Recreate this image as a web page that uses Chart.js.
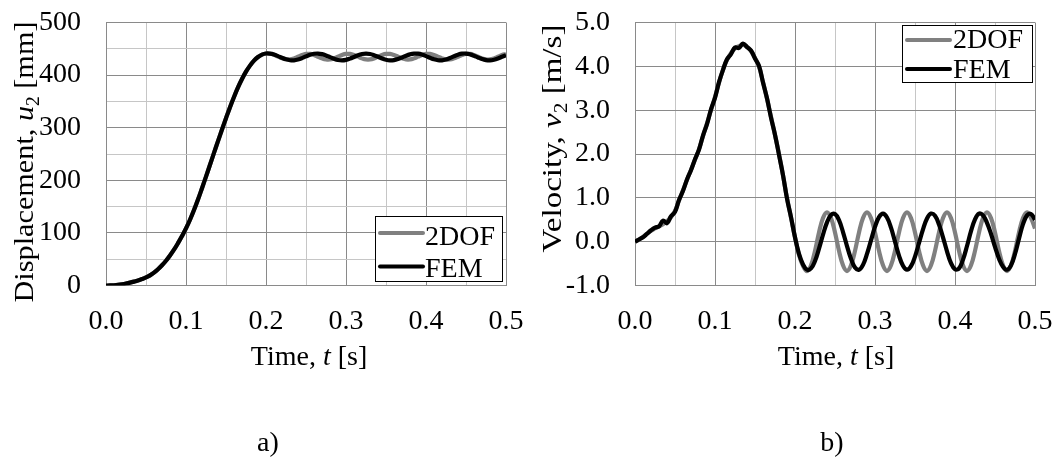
<!DOCTYPE html>
<html><head><meta charset="utf-8">
<script src="https://cdn.jsdelivr.net/npm/chart.js@4.4.1/dist/chart.umd.min.js"></script>
<style>
html,body{margin:0;padding:0;background:#fff;overflow:hidden;}
#wrap{position:relative;width:1055px;height:457px;background:#fff;}
canvas{position:absolute;top:0;}
</style></head><body>
<div id="wrap">
<canvas id="c1" width="528" height="457" style="left:0px"></canvas>
<canvas id="c2" width="527" height="457" style="left:528px"></canvas>
</div>
<script>
// ---- data (time in s) ----
const time = [
0,0.005,0.01,0.015,0.02,0.025,0.03,0.035,0.04,0.045,
0.05,0.055,0.06,0.065,0.07,0.075,0.08,0.085,0.09,0.095,
0.1,0.105,0.11,0.115,0.12,0.125,0.13,0.135,0.14,0.145,
0.15,0.155,0.16,0.165,0.17,0.175,0.18,0.185,0.19,0.195,
0.2,0.205,0.21,0.215,0.22,0.225,0.23,0.235,0.24,0.245,
0.25,0.255,0.26,0.265,0.27,0.275,0.28,0.285,0.29,0.295,
0.3,0.305,0.31,0.315,0.32,0.325,0.33,0.335,0.34,0.345,
0.35,0.355,0.36,0.365,0.37,0.375,0.38,0.385,0.39,0.395,
0.4,0.405,0.41,0.415,0.42,0.425,0.43,0.435,0.44,0.445,
0.45,0.455,0.46,0.465,0.47,0.475,0.48,0.485,0.49,0.495,
0.5];

// displacement u2 [mm]
const disp2DOF = [
0,0.1,0.5,1.2,2.3,3.7,5.4,7.4,9.6,12.2,
15.3,19.3,24.5,31,38.5,47,57,68,80.5,94,
108.5,125,143.5,163.5,185,207,229.5,252,274.5,296.5,
318,339,358.5,376.5,392.5,406.5,418,427.5,434.5,439,
441,440.6,438.5,435.2,432.0,430.1,429.9,431.8,435.0,438.2,
440.2,440.3,438.2,435.0,431.8,429.8,429.7,431.8,435.1,438.2,
440.2,440.2,438.3,435.0,431.8,429.8,429.8,431.7,435.0,438.2,
440.3,440.2,438.2,435.0,431.9,429.8,429.8,431.8,435.0,438.3,
440.2,440.2,438.2,434.9,431.8,429.8,429.8,431.8,435.0,438.2,
440.2,440.2,438.2,435.0,431.8,429.8,429.8,431.8,435.0,438.2,
440.2];
const dispFEM = [
0,0.1,0.5,1.2,2.3,3.7,5.4,7.4,9.6,12.2,
15.3,19.3,24.5,31,38.5,47,57,68,80.5,94,
108.5,125,143.5,163.5,185,207,229.5,252,274.5,296.5,
318,339,358.5,376.5,392.5,406.5,418,427.5,434.5,439,
441,440.7,439.0,436.1,432.9,430.0,428.3,428.1,429.6,432.2,
435.5,438.5,440.5,441.0,439.8,437.4,434.2,431.1,428.8,428.0,
428.9,431.3,434.5,437.8,440.1,441.0,440.2,437.9,434.8,431.6,
429.2,428.0,428.5,430.5,433.5,436.8,439.4,440.9,440.7,439.0,
436.1,432.9,430.0,428.3,428.1,429.7,432.5,435.9,438.8,440.7,
440.9,439.4,436.8,433.5,430.5,428.5,428.0,429.2,431.6,434.8,
437.9];

// velocity v2 [m/s]
const vel2DOF = [
0,0.05,0.11,0.18,0.25,0.30,0.35,0.40,0.47,0.56,
0.70,0.94,1.17,1.41,1.64,1.87,2.11,2.41,2.70,3.00,
3.30,3.63,3.92,4.15,4.30,4.41,4.46,4.49,4.45,4.35,
4.19,4.00,3.64,3.26,2.85,2.43,2.00,1.51,1.00,0.55,
0.10,-0.30,-0.55,-0.67,-0.54,-0.21,0.21,0.54,0.67,0.54,
0.21,-0.21,-0.54,-0.67,-0.54,-0.21,0.21,0.54,0.67,0.54,
0.21,-0.21,-0.54,-0.67,-0.54,-0.21,0.21,0.54,0.67,0.54,
0.21,-0.21,-0.54,-0.67,-0.54,-0.21,0.21,0.54,0.67,0.54,
0.21,-0.21,-0.54,-0.67,-0.54,-0.21,0.21,0.54,0.67,0.54,
0.21,-0.21,-0.54,-0.67,-0.54,-0.21,0.21,0.54,0.67,0.54,
0.30];
const velFEM = [
0,0.05,0.10,0.18,0.26,0.32,0.35,0.48,0.42,0.58,
0.68,0.95,1.16,1.42,1.63,1.88,2.10,2.42,2.68,3.02,
3.28,3.64,3.92,4.16,4.28,4.43,4.42,4.52,4.44,4.36,
4.18,4.01,3.63,3.27,2.83,2.44,1.98,1.52,0.98,0.56,
0.10,-0.28,-0.52,-0.64,-0.61,-0.44,-0.16,0.16,0.44,0.61,
0.63,0.49,0.22,-0.10,-0.39,-0.59,-0.64,-0.53,-0.28,0.03,
0.34,0.56,0.64,0.55,0.32,0.00,-0.32,-0.55,-0.64,-0.56,
-0.34,-0.03,0.28,0.53,0.64,0.59,0.39,0.10,-0.22,-0.49,
-0.63,-0.61,-0.41,-0.10,0.24,0.51,0.64,0.60,0.43,0.18,
-0.12,-0.39,-0.57,-0.64,-0.54,-0.28,0.07,0.40,0.60,0.63,
0.50];

const seriesNames = ['2DOF', 'FEM'];
const seriesColors = ['#808080', '#000000'];

// ---- styling ----
const FONT = "'Liberation Serif','Times New Roman',serif";
const FS = 28;
const MAJOR = '#8a8a8a', MINOR = '#c6c6c6';

function pts(xs, ys) { return xs.map((x, i) => ({ x: x, y: ys[i] })); }
function isMult(v, step) { const r = v / step; return Math.abs(r - Math.round(r)) < 1e-6; }

function segFont(s) {
  const size = s.sub ? Math.round(FS * 0.65) : FS;
  return (s.i ? 'italic ' : '') + size + 'px ' + FONT;
}
function richWidth(ctx, segs) {
  let w = 0;
  for (const s of segs) { ctx.font = segFont(s); w += ctx.measureText(s.t).width; }
  return w;
}
function drawRich(ctx, segs, cx, by, sx) {
  ctx.save();
  ctx.translate(cx, by);
  ctx.scale(sx || 1, 1);
  const w = richWidth(ctx, segs);
  let x = -w / 2;
  ctx.fillStyle = '#000';
  ctx.textBaseline = 'alphabetic';
  ctx.textAlign = 'left';
  for (const s of segs) {
    ctx.font = segFont(s);
    ctx.fillText(s.t, x, s.sub ? 6 : 0);
    x += ctx.measureText(s.t).width;
  }
  ctx.restore();
}

function decor(cfg) {
  return {
    id: 'decor',
    afterDraw(chart) {
      const ctx = chart.ctx;
      // y title (rotated)
      ctx.save();
      ctx.translate(cfg.yt.x, cfg.yt.y);
      ctx.rotate(-Math.PI / 2);
      drawRich(ctx, cfg.yt.segs, 0, 0, cfg.yt.sx);
      ctx.restore();
      // x title
      drawRich(ctx, [{ t: 'Time, ' }, { t: 't', i: true }, { t: ' [s]' }], cfg.xt.x, cfg.xt.y, 1);
      // legend
      const L = cfg.lg;
      ctx.save();
      ctx.fillStyle = '#fff';
      ctx.fillRect(L.x, L.y, L.w, L.h);
      ctx.strokeStyle = '#000';
      ctx.lineWidth = 1;
      ctx.strokeRect(L.x + 0.5, L.y + 0.5, L.w - 1, L.h - 1);
      ctx.font = FS + 'px ' + FONT;
      ctx.textBaseline = 'alphabetic';
      ctx.textAlign = 'left';
      for (let k = 0; k < 2; k++) {
        ctx.strokeStyle = seriesColors[k];
        ctx.lineWidth = 4;
        ctx.lineCap = 'round';
        ctx.beginPath();
        ctx.moveTo(L.lx1, L.rows[k].ly);
        ctx.lineTo(L.lx2, L.rows[k].ly);
        ctx.stroke();
        ctx.fillStyle = '#000';
        ctx.fillText(seriesNames[k], L.tx, L.rows[k].ty);
      }
      ctx.restore();
      // caption
      ctx.save();
      ctx.font = FS + 'px ' + FONT;
      ctx.fillStyle = '#000';
      ctx.textAlign = 'center';
      ctx.textBaseline = 'alphabetic';
      ctx.fillText(cfg.cap.t, cfg.cap.x, cfg.cap.y);
      ctx.restore();
    }
  };
}

function zeroPad(s) { s.paddingLeft = 0; s.paddingRight = 0; s.paddingTop = 0; s.paddingBottom = 0; }

function makeChart(id, cfg) {
  return new Chart(document.getElementById(id), {
    type: 'line',
    data: {
      datasets: [
        { label: seriesNames[0], data: pts(time, cfg.a), borderColor: seriesColors[0], borderWidth: 4.2,
          pointRadius: 0, tension: 0.4, fill: false, order: 1 },
        { label: seriesNames[1], data: pts(time, cfg.b), borderColor: seriesColors[1], borderWidth: 4.2,
          pointRadius: 0, tension: 0.4, fill: false, order: 0 }
      ]
    },
    options: {
      responsive: false, animation: false, events: [],
      layout: { padding: { left: 0, right: cfg.padR, top: cfg.top, bottom: 0 } },
      plugins: { legend: { display: false }, tooltip: { enabled: false } },
      scales: {
        x: {
          type: 'linear', min: 0, max: 0.5,
          afterFit(s) { s.height = 457 - cfg.bottom; zeroPad(s); },
          ticks: { stepSize: 0.05, autoSkip: false, maxRotation: 0, minRotation: 0, padding: 19,
                   color: '#000', font: { family: FONT, size: FS },
                   callback: v => isMult(v, 0.1) ? Number(v).toFixed(1) : '' },
          grid: { drawTicks: false, lineWidth: 1,
                  color: c => (c.tick && isMult(c.tick.value, 0.1)) ? MAJOR : MINOR },
          border: { color: MAJOR, width: 1 }
        },
        y: {
          type: 'linear', min: cfg.ymin, max: cfg.ymax,
          afterFit(s) { s.width = cfg.left; zeroPad(s); },
          ticks: { stepSize: cfg.ystep, autoSkip: false, padding: 25, color: '#000',
                   font: { family: FONT, size: FS }, callback: cfg.ylab },
          grid: { drawTicks: false, lineWidth: 1, color: cfg.ygrid },
          border: { color: MAJOR, width: 1 }
        }
      }
    },
    plugins: [decor(cfg)]
  });
}

makeChart('c1', {
  a: disp2DOF, b: dispFEM,
  ymin: 0, ymax: 500, ystep: 50,
  ylab: v => isMult(v, 100) ? String(Math.round(v)) : '',
  ygrid: c => (c.tick && isMult(c.tick.value, 100)) ? MAJOR : MINOR,
  left: 106, padR: 22, top: 22.5, bottom: 285.5,
  yt: { x: 32.5, y: 162, sx: 1.08, segs: [{ t: 'Displacement, ' }, { t: 'u', i: true }, { t: '2', sub: true }, { t: ' [mm]' }] },
  xt: { x: 309, y: 365 },
  lg: { x: 375, y: 216, w: 128, h: 66, lx1: 380, lx2: 423, tx: 425, rows: [{ ly: 233, ty: 245 }, { ly: 266.5, ty: 277 }] },
  cap: { t: 'a)', x: 268, y: 451 }
});

makeChart('c2', {
  a: vel2DOF, b: velFEM,
  ymin: -1, ymax: 5, ystep: 1,
  ylab: v => Number(v).toFixed(1),
  ygrid: c => MAJOR,
  left: 107, padR: 20, top: 22.5, bottom: 285.5,
  yt: { x: 33, y: 138.5, sx: 1.18, segs: [{ t: 'Velocity, ' }, { t: 'v', i: true }, { t: '2', sub: true }, { t: ' [m/s]' }] },
  xt: { x: 308, y: 365 },
  lg: { x: 374, y: 25, w: 131, h: 58, lx1: 379, lx2: 422, tx: 425, rows: [{ ly: 40, ty: 48 }, { ly: 69, ty: 78 }] },
  cap: { t: 'b)', x: 304, y: 451 }
});
</script>
</body></html>
